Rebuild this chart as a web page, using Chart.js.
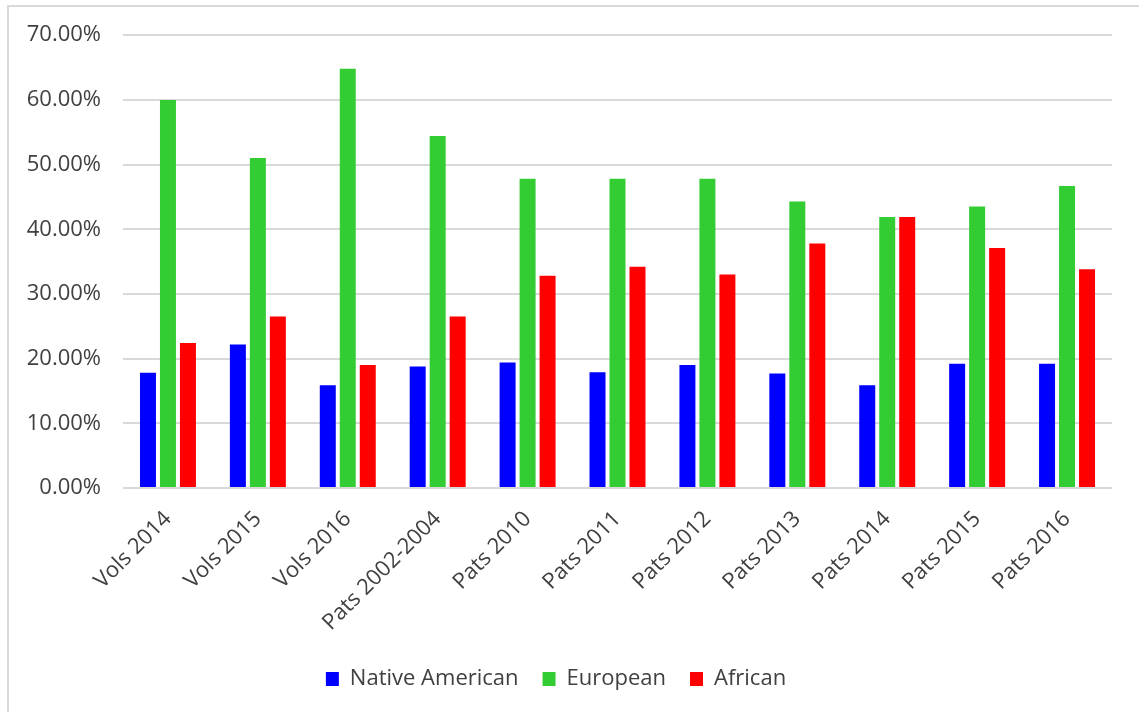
<!DOCTYPE html>
<html>
<head>
<meta charset="utf-8">
<script src="https://cdn.jsdelivr.net/npm/chart.js@4"></script>
<style>
    html, body { margin: 0; padding: 0; background: #fff; }
    #frame {
        position: absolute; left: 7px; top: 5px;
        width: 1140px; height: 720px;
        border: 2px solid #d9d9d9;
    }
    #wrap { position: absolute; left: 0; top: 0; width: 1139px; height: 712px; }
</style>
</head>
<body>
<div id="frame"></div>
<div id="wrap"><canvas id="barChart"></canvas></div>
<script>
    // groups along the x axis
    var labels = ['Vols 2014', 'Vols 2015', 'Vols 2016', 'Pats 2002-2004', 'Pats 2010', 'Pats 2011',
                  'Pats 2012', 'Pats 2013', 'Pats 2014', 'Pats 2015', 'Pats 2016'];

    // shares in percent
    var nativeAmerican = [17.8, 22.2, 15.9, 18.8, 19.4, 17.9, 19.0, 17.7, 15.9, 19.2, 19.2];
    var european       = [60.0, 51.0, 64.8, 54.4, 47.8, 47.8, 47.8, 44.3, 41.9, 43.5, 46.7];
    var african        = [22.4, 26.5, 19.0, 26.5, 32.8, 34.2, 33.0, 37.8, 41.9, 37.1, 33.8];

    var yTicks = [0, 10, 20, 30, 40, 50, 60, 70];

    const ctx = document.getElementById('barChart').getContext('2d');

    var myChart = new Chart(ctx, {
        type: 'bar',
        data: {
            labels: labels,
            datasets: [
                { label: 'Native American', data: nativeAmerican, backgroundColor: '#0000ff' },
                { label: 'European', data: european, backgroundColor: '#33cc33' },
                { label: 'African', data: african, backgroundColor: '#ff0000' }
            ]
        },
        options: {
            responsive: true,
            maintainAspectRatio: false,
            animation: false,
            categoryPercentage: 0.667,
            barPercentage: 0.8,
            layout: {
                padding: { left: 0, right: 27, top: 27, bottom: 12 }
            },
            plugins: {
                tooltip: { enabled: false },
                legend: {
                    position: 'bottom',
                    labels: {
                        boxWidth: 13,
                        boxHeight: 14,
                        padding: 24,
                        color: '#404040',
                        font: { family: 'Open Sans', size: 22 }
                    }
                }
            },
            scales: {
                x: {
                    grid: { display: false, drawTicks: false },
                    border: { display: false },
                    ticks: {
                        minRotation: 45,
                        maxRotation: 45,
                        padding: 18,
                        color: '#404040',
                        font: { family: 'Open Sans', size: 22 }
                    },
                    afterFit: function (scale) { scale.height = 156; }
                },
                y: {
                    min: 0,
                    max: 70,
                    afterBuildTicks: function (scale) {
                        scale.ticks = yTicks.map(function (v) { return { value: v }; });
                    },
                    grid: { color: '#d9d9d9', lineWidth: 2, drawTicks: false },
                    border: { display: false },
                    ticks: {
                        padding: 22,
                        color: '#404040',
                        font: { family: 'Open Sans', size: 22 },
                        callback: function (v) { return v.toFixed(2) + '%'; }
                    },
                    afterFit: function (scale) { scale.width = 123; }
                }
            }
        }
    });
</script>
</body>
</html>
